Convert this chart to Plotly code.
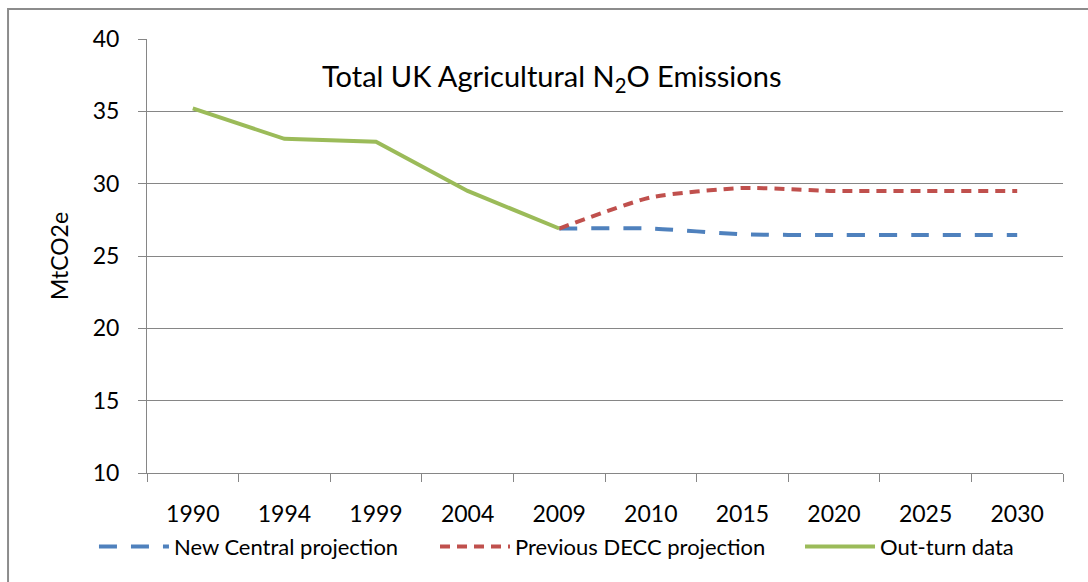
import plotly.graph_objects as go

years = ["1990", "1994", "1999", "2004", "2009", "2010", "2015", "2020", "2025", "2030"]
outturn_years = ["1990", "1994", "1999", "2004", "2009"]
outturn = [35.2, 33.1, 32.9, 29.5, 26.9]
proj_years = ["2009", "2010", "2015", "2020", "2025", "2030"]
new_central = [26.9, 26.9, 26.5, 26.45, 26.45, 26.45]
previous_decc = [26.9, 29.05, 29.7, 29.5, 29.5, 29.5]

FONT = "Lato"
fig = go.Figure()
fig.add_trace(go.Scatter(x=proj_years, y=new_central, mode="lines", name="New Central projection",
                         legend="legend",
                         line=dict(color="#4F81BD", width=4, dash="18px,14px", shape="spline", smoothing=0.6)))
fig.add_trace(go.Scatter(x=proj_years, y=previous_decc, mode="lines", name="Previous DECC projection",
                         legend="legend2",
                         line=dict(color="#C0504D", width=4, dash="10px,7px", shape="spline", smoothing=0.6)))
fig.add_trace(go.Scatter(x=outturn_years, y=outturn, mode="lines", name="Out-turn data",
                         legend="legend3",
                         line=dict(color="#9BBB59", width=4)))

leg_common = dict(orientation="h", xanchor="left", y=-0.17, yanchor="middle",
                  font=dict(size=22, family=FONT), itemwidth=70, bgcolor="rgba(0,0,0,0)")

fig.update_layout(
    width=1088, height=582,
    margin=dict(l=147, r=25, t=39, b=109),
    paper_bgcolor="white", plot_bgcolor="white",
    font=dict(family=FONT, color="black", size=23),
    showlegend=True,
    legend=dict(x=-0.0579, **leg_common),
    legend2=dict(x=0.3144, **leg_common),
    legend3=dict(x=0.7129, **leg_common),
    xaxis=dict(type="category", categoryorder="array", categoryarray=years,
               range=[-0.5, 9.5], tickson="boundaries", ticks="outside", ticklen=8,
               tickcolor="#868686", showline=True, linecolor="#868686", linewidth=1,
               showgrid=False, tickfont=dict(size=23), ticklabelstandoff=20, fixedrange=True),
    yaxis=dict(range=[10, 40], dtick=5, ticks="outside", ticklen=8, tickcolor="#868686",
               showline=True, linecolor="#868686", linewidth=1,
               showgrid=True, gridcolor="#868686", gridwidth=1, zeroline=False,
               tickfont=dict(size=23), ticklabelstandoff=14,
               title=dict(text="MtCO2e", font=dict(size=23), standoff=17)),
    annotations=[dict(text="Total UK Agricultural N<sub>2</sub>O Emissions", x=0.442, y=0.912,
                      xref="paper", yref="paper", showarrow=False, font=dict(size=29, family=FONT),
                      xanchor="center", yanchor="middle")],
    shapes=[dict(type="rect", xref="paper", yref="paper", x0=-0.1517, y0=-0.4, x1=1.2, y1=1.0691,
                 line=dict(color="#8c8c8c", width=2), fillcolor="rgba(0,0,0,0)", layer="below")],
)

fig.write_html("out.html")
